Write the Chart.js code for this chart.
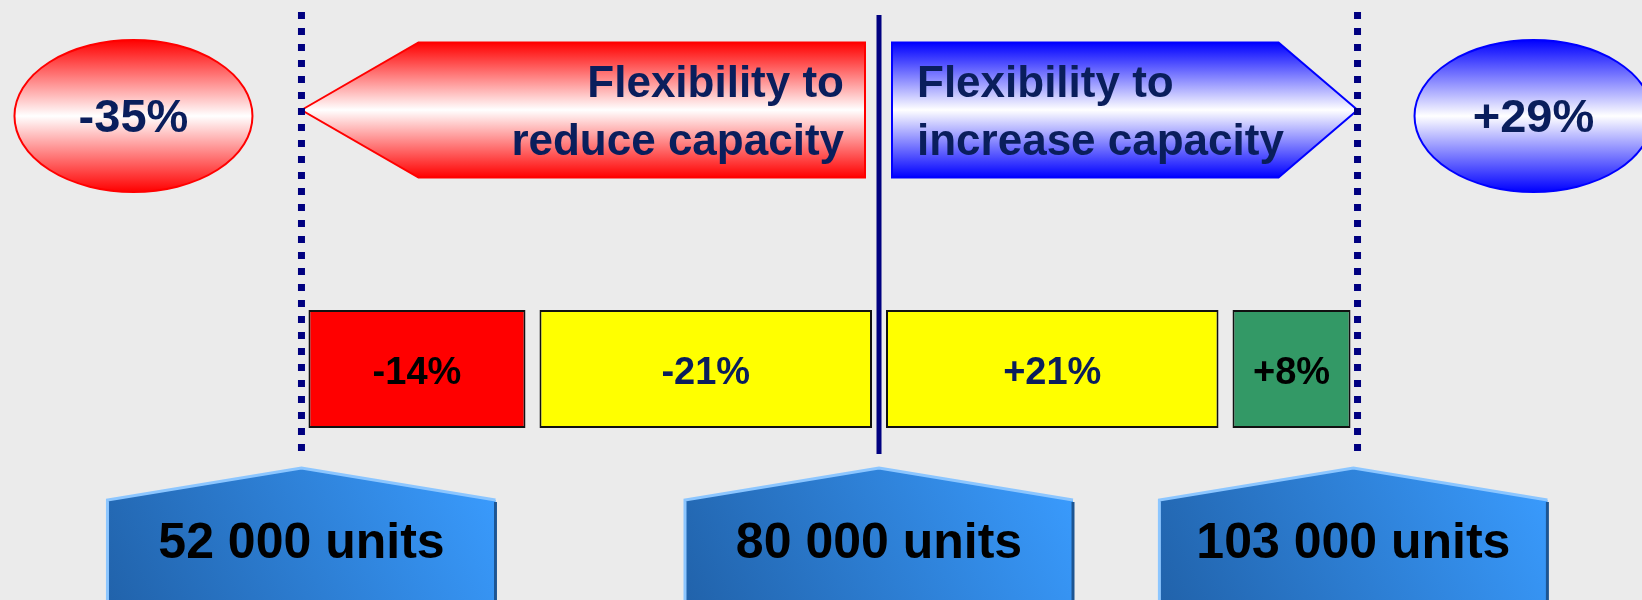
<!DOCTYPE html>
<html>
<head>
<meta charset="utf-8">
<title>Capacity flexibility</title>
<script src="https://cdn.jsdelivr.net/npm/chart.js@4.4.1/dist/chart.umd.min.js"></script>
<style>
  html, body { margin: 0; padding: 0; background: #ebebeb; }
  #chart { display: block; }
</style>
</head>
<body>
<canvas id="chart" width="1642" height="600"></canvas>
<script>
// rows of the diagram (category axis)
const rows = ['Flexibility', 'Steps'];

// total flexibility, in % of the 80 000 units baseline
const flexRanges = [[-35, 0], [0, 29]];
const flexTexts = [['Flexibility to', 'reduce capacity'], ['Flexibility to', 'increase capacity']];
const flexTotals = ['-35%', '+29%'];

// the individual steps
const stepRanges = [[-35, -21], [-21, 0], [0, 21], [21, 29]];
const stepTexts = ['-14%', '-21%', '+21%', '+8%'];

// volume levels
const baseUnits = 80000;
const levelUnits = [52000, 80000, 103000];
const levelTexts = ['52 000 units', '80 000 units', '103 000 units'];

const FONT = "'Liberation Sans', Arial, sans-serif";
const NAVY = '#0a1e5c';
const LINE = '#000080';
const stepColors = ['#ff0000', '#ffff00', '#ffff00', '#339966'];
const stepTextColors = ['#000000', NAVY, NAVY, '#000000'];
const arrowColors = ['#ff0000', '#0000ff'];
const arrowHeads = [117, 79];

const toPct = (u) => (u - baseUnits) / baseUnits * 100;

function vGradient(ctx, top, bottom, color) {
  const g = ctx.createLinearGradient(0, top, 0, bottom);
  g.addColorStop(0, color);
  g.addColorStop(0.5, '#ffffff');
  g.addColorStop(1, color);
  return g;
}

const diagram = {
  id: 'diagram',
  beforeDraw(chart) {
    const { ctx, width, height } = chart;
    ctx.save();
    ctx.fillStyle = '#ebebeb';
    ctx.fillRect(0, 0, width, height);
    ctx.restore();
  },
  afterDatasetsUpdate(chart) {
    // leave a small gap between neighbouring step boxes
    chart.getDatasetMeta(1).data.forEach((bar) => {
      const dir = bar.x > bar.base ? 1 : -1;
      bar.x -= dir * 7;
      bar.base += dir * 7;
    });
  },
  beforeDatasetsDraw(chart) {
    const { ctx, chartArea, scales } = chart;
    const x = scales.x;
    const zero = x.getPixelForValue(0);
    ctx.save();

    // arrows
    chart.getDatasetMeta(0).data.forEach((bar, i) => {
      const p = bar.getProps(['x', 'y', 'base', 'height'], true);
      const L = Math.min(p.x, p.base), R = Math.max(p.x, p.base);
      const top = p.y - p.height / 2, bottom = p.y + p.height / 2;
      const left = flexRanges[i][0] < 0;
      ctx.beginPath();
      if (left) {
        ctx.moveTo(L, p.y);
        ctx.lineTo(L + arrowHeads[i], top);
        ctx.lineTo(R - 14, top);
        ctx.lineTo(R - 14, bottom);
        ctx.lineTo(L + arrowHeads[i], bottom);
      } else {
        ctx.moveTo(L + 13, top);
        ctx.lineTo(R - arrowHeads[i], top);
        ctx.lineTo(R, p.y);
        ctx.lineTo(R - arrowHeads[i], bottom);
        ctx.lineTo(L + 13, bottom);
      }
      ctx.closePath();
      ctx.fillStyle = vGradient(ctx, top, bottom, arrowColors[i]);
      ctx.fill();
      ctx.lineWidth = 2;
      ctx.strokeStyle = arrowColors[i];
      ctx.stroke();

      ctx.fillStyle = NAVY;
      ctx.font = 'bold 44px ' + FONT;
      ctx.textBaseline = 'alphabetic';
      ctx.textAlign = left ? 'right' : 'left';
      const tx = left ? R - 35 : L + 38;
      ctx.fillText(flexTexts[i][0], tx, p.y - 13);
      ctx.fillText(flexTexts[i][1], tx, p.y + 45);

      // total in an ellipse beyond the arrow tip
      const tip = left ? L : R;
      const cx = left ? tip - 168 : tip + 176;
      const cy = p.y + 6;
      ctx.beginPath();
      ctx.ellipse(cx, cy, 119, 76, 0, 0, Math.PI * 2);
      ctx.fillStyle = vGradient(ctx, cy - 76, cy + 76, arrowColors[i]);
      ctx.fill();
      ctx.lineWidth = 2;
      ctx.strokeStyle = arrowColors[i];
      ctx.stroke();
      ctx.fillStyle = NAVY;
      ctx.font = 'bold 47px ' + FONT;
      ctx.textAlign = 'center';
      ctx.fillText(flexTotals[i], cx, cy + 16);
    });

    // dotted limits and the baseline divider
    ctx.strokeStyle = LINE;
    ctx.lineWidth = 7;
    ctx.setLineDash([7, 9]);
    flexRanges.forEach((r) => {
      const v = r[0] < 0 ? r[0] : r[1];
      const px = x.getPixelForValue(v);
      ctx.beginPath();
      ctx.moveTo(px, chartArea.top - 98);
      ctx.lineTo(px, chartArea.bottom + 84);
      ctx.stroke();
    });
    ctx.setLineDash([]);
    ctx.lineWidth = 5;
    ctx.beginPath();
    ctx.moveTo(zero, chartArea.top - 95);
    ctx.lineTo(zero, chartArea.bottom + 85);
    ctx.stroke();

    // volume levels
    const sh = chartArea.bottom + 131;
    const w = 388;
    levelUnits.forEach((u, i) => {
      const cx = x.getPixelForValue(toPct(u));
      const l = cx - w / 2, r = cx + w / 2, b = chart.height + 10;
      ctx.beginPath();
      ctx.moveTo(l, sh);
      ctx.lineTo(cx, sh - 32);
      ctx.lineTo(r, sh);
      ctx.lineTo(r, b);
      ctx.lineTo(l, b);
      ctx.closePath();
      const g = ctx.createLinearGradient(r, sh - 32, l, b + 60);
      g.addColorStop(0, '#3a9cff');
      g.addColorStop(1, '#1f5ea4');
      ctx.fillStyle = g;
      ctx.fill();
      ctx.lineWidth = 3;
      ctx.strokeStyle = '#1d5592';
      ctx.beginPath();
      ctx.moveTo(r, sh + 2);
      ctx.lineTo(r, b);
      ctx.stroke();
      ctx.strokeStyle = '#8cc6ff';
      ctx.beginPath();
      ctx.moveTo(l, b);
      ctx.lineTo(l, sh);
      ctx.lineTo(cx, sh - 32);
      ctx.lineTo(r, sh);
      ctx.stroke();
      ctx.fillStyle = '#000000';
      ctx.font = 'bold 50px ' + FONT;
      ctx.textAlign = 'center';
      ctx.fillText(levelTexts[i], cx, sh + 58);
    });
    ctx.restore();
  },
  afterDatasetsDraw(chart) {
    const { ctx } = chart;
    ctx.save();
    ctx.font = 'bold 38px ' + FONT;
    ctx.textAlign = 'center';
    ctx.textBaseline = 'alphabetic';
    chart.getDatasetMeta(1).data.forEach((bar, i) => {
      const p = bar.getProps(['x', 'y', 'base'], true);
      ctx.fillStyle = stepTextColors[i];
      ctx.fillText(stepTexts[i], (p.x + p.base) / 2, p.y + 15);
    });
    ctx.restore();
  }
};

new Chart(document.getElementById('chart'), {
  type: 'bar',
  data: {
    labels: rows,
    datasets: [
      {
        label: 'Flexibility',
        data: flexRanges.map((r) => ({ x: r, y: rows[0] })),
        backgroundColor: 'rgba(0,0,0,0)',
        borderWidth: 0,
        barThickness: 135,
        grouped: false,
        clip: false
      },
      {
        label: 'Steps',
        data: stepRanges.map((r) => ({ x: r, y: rows[1] })),
        backgroundColor: stepColors,
        borderColor: '#111111',
        borderWidth: 2,
        borderSkipped: false,
        inflateAmount: 0,
        barThickness: 118,
        grouped: false,
        clip: false
      }
    ]
  },
  options: {
    indexAxis: 'y',
    responsive: false,
    animation: false,
    events: [],
    layout: { padding: { top: 110, bottom: 231, left: 0, right: 0 } },
    scales: {
      x: { type: 'linear', min: -53.27, max: 46.24, display: false },
      y: { type: 'category', offset: false, display: false }
    },
    plugins: {
      legend: { display: false },
      tooltip: { enabled: false }
    }
  },
  plugins: [diagram]
});
</script>
</body>
</html>
